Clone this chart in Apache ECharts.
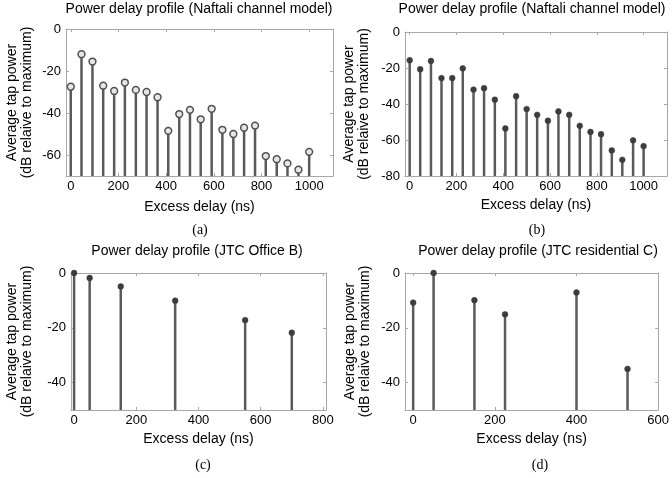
<!DOCTYPE html>
<html>
<head>
<meta charset="utf-8">
<script src="https://cdn.jsdelivr.net/npm/echarts@6/dist/echarts.min.js"></script>
<style>
  html, body { margin: 0; padding: 0; background: #fff; }
  #chart { width: 672px; height: 478px; }
</style>
</head>
<body>
<div id="chart"></div>
<script>
// tap delays (ns) and powers (dB)
const naftaliDelay = [0, 45, 91, 136, 182, 227, 273, 318, 364, 409, 455, 500, 545, 591, 636, 682, 727, 773, 818, 864, 909, 955, 1000]
const naftaliPowerA = [-27.5, -12, -15.5, -27, -29.5, -25.5, -29, -30, -32.5, -48.5, -40.5, -38.5, -43, -38, -48, -50, -47, -46, -60.5, -62, -64, -67, -58.5]
const naftaliPowerB = [-15.7, -20.7, -16.1, -25.6, -25.6, -20.2, -32, -31.2, -37.6, -53.6, -35.7, -42.8, -46, -49.3, -44.1, -46, -52.1, -55.5, -56.8, -65.8, -71, -60.2, -63.4]
const officeDelay = [0, 50, 150, 325, 550, 700]
const officePower = [0, -1.8, -4.9, -10.1, -17.2, -21.8]
const resDelay = [0, 50, 150, 225, 400, 525]
const resPower = [-10.8, 0, -9.9, -15.1, -7.1, -35]

const naftaliXTicks = [0, 200, 400, 600, 800, 1000]
const naftaliYTicksA = [0, -20, -40, -60]
const naftaliYTicksB = [0, -20, -40, -60, -80]
const officeXTicks = [0, 200, 400, 600, 800]
const resXTicks = [0, 200, 400, 600]
const jtcYTicks = [0, -20, -40]

const titles = [
  'Power delay profile (Naftali channel model)',
  'Power delay profile (Naftali channel model)',
  'Power delay profile (JTC Office B)',
  'Power delay profile (JTC residential C)'
]
const captions = ['(a)', '(b)', '(c)', '(d)']

const FONT = 'Liberation Sans, Arial, sans-serif'
const BOX = '#a8a8a8'
const STEM = '#5a5a5a'

const panels = [
  { grid: { left: 66, top: 29, width: 267, height: 147 }, xMin: -20, xMax: 1100, xTicks: naftaliXTicks,
    yMin: -70, yMax: 0, yTicks: naftaliYTicksA, delay: naftaliDelay, power: naftaliPowerA, open: true,
    nameGapY: 31, nameGapX: 24, title: [199, 2], caption: [200, 230] },
  { grid: { left: 405, top: 32, width: 262, height: 144 }, xMin: -20, xMax: 1100, xTicks: naftaliXTicks,
    yMin: -80, yMax: 0, yTicks: naftaliYTicksB, delay: naftaliDelay, power: naftaliPowerB, open: false,
    nameGapY: 33, nameGapX: 22, title: [532, 2], caption: [537, 230] },
  { grid: { left: 71, top: 273, width: 255, height: 137 }, xMin: -10, xMax: 810, xTicks: officeXTicks,
    yMin: -50, yMax: 0, yTicks: jtcYTicks, delay: officeDelay, power: officePower, open: false,
    nameGapY: 36, nameGapX: 22, title: [197, 244], caption: [203, 465] },
  { grid: { left: 405, top: 273, width: 258, height: 137 }, xMin: -20, xMax: 600, xTicks: resXTicks,
    yMin: -50, yMax: 0, yTicks: jtcYTicks, delay: resDelay, power: resPower, open: false,
    nameGapY: 32, nameGapX: 22, title: [538, 244], caption: [540, 465] }
]

const chart = echarts.init(document.getElementById('chart'), null, { renderer: 'canvas' })

const grid = [], xAxis = [], yAxis = [], series = [], title = [], graphic = []
const plain = v => String(v)

panels.forEach((p, i) => {
  grid.push(Object.assign({ containLabel: false }, p.grid))
  const line = { show: true, onZero: false, lineStyle: { color: BOX, width: 1 } }
  const tick = (vals) => ({ show: true, inside: true, length: 3, customValues: vals, lineStyle: { color: BOX } })
  // bottom + top x axes
  xAxis.push({
    type: 'value', gridIndex: i, position: 'bottom', min: p.xMin, max: p.xMax,
    axisLine: line, axisTick: tick(p.xTicks), splitLine: { show: false },
    axisLabel: { customValues: p.xTicks, formatter: plain, color: '#000', fontSize: 13, fontFamily: FONT, margin: 4 },
    name: 'Excess delay (ns)', nameLocation: 'middle', nameGap: p.nameGapX,
    nameTextStyle: { color: '#000', fontSize: 14, fontFamily: FONT }
  })
  xAxis.push({
    type: 'value', gridIndex: i, position: 'top', min: p.xMin, max: p.xMax,
    axisLine: line, axisTick: tick(p.xTicks), splitLine: { show: false }, axisLabel: { show: false }
  })
  yAxis.push({
    type: 'value', gridIndex: i, position: 'left', min: p.yMin, max: p.yMax,
    axisLine: line, axisTick: tick(p.yTicks), splitLine: { show: false },
    axisLabel: { customValues: p.yTicks, formatter: plain, color: '#000', fontSize: 13, fontFamily: FONT, margin: 5 },
    name: 'Average tap power\n(dB relaive to maximum)', nameLocation: 'middle', nameGap: p.nameGapY,
    nameRotate: 90,
    nameTextStyle: { color: '#000', fontSize: 14, lineHeight: 15, fontFamily: FONT }
  })
  yAxis.push({
    type: 'value', gridIndex: i, position: 'right', min: p.yMin, max: p.yMax,
    axisLine: line, axisTick: tick(p.yTicks), splitLine: { show: false }, axisLabel: { show: false }
  })

  const yMin = p.yMin
  const open = p.open
  series.push({
    type: 'custom',
    xAxisIndex: 2 * i,
    yAxisIndex: 2 * i,
    data: p.delay.map((d, k) => [d, p.power[k]]),
    encode: { x: 0, y: 1 },
    renderItem(params, api) {
      const x = api.value(0)
      const y = api.value(1)
      const base = api.coord([x, yMin])
      const top = api.coord([x, y])
      return {
        type: 'group',
        children: [
          { type: 'line', shape: { x1: base[0], y1: base[1], x2: top[0], y2: top[1] },
            style: { stroke: STEM, lineWidth: 2.5 } },
          { type: 'circle', shape: { cx: top[0], cy: top[1], r: open ? 3.4 : 2.9 },
            style: open ? { fill: '#e6e6e6', stroke: '#505050', lineWidth: 1.5 }
                        : { fill: '#3c3c3c', stroke: '#3c3c3c', lineWidth: 0.5 } }
        ]
      }
    }
  })

  title.push({
    text: titles[i], left: p.title[0], top: p.title[1], textAlign: 'center', padding: 0,
    textStyle: { color: '#000', fontSize: 14, fontWeight: 'normal', fontFamily: FONT }
  })
  graphic.push({
    type: 'text', x: p.caption[0], y: p.caption[1],
    style: { text: captions[i], align: 'center', verticalAlign: 'middle',
      font: '14px "Liberation Serif", serif', fill: '#000' }
  })
})

chart.setOption({
  animation: false,
  backgroundColor: '#fff',
  title, grid, xAxis, yAxis, series, graphic
})
</script>
</body>
</html>
